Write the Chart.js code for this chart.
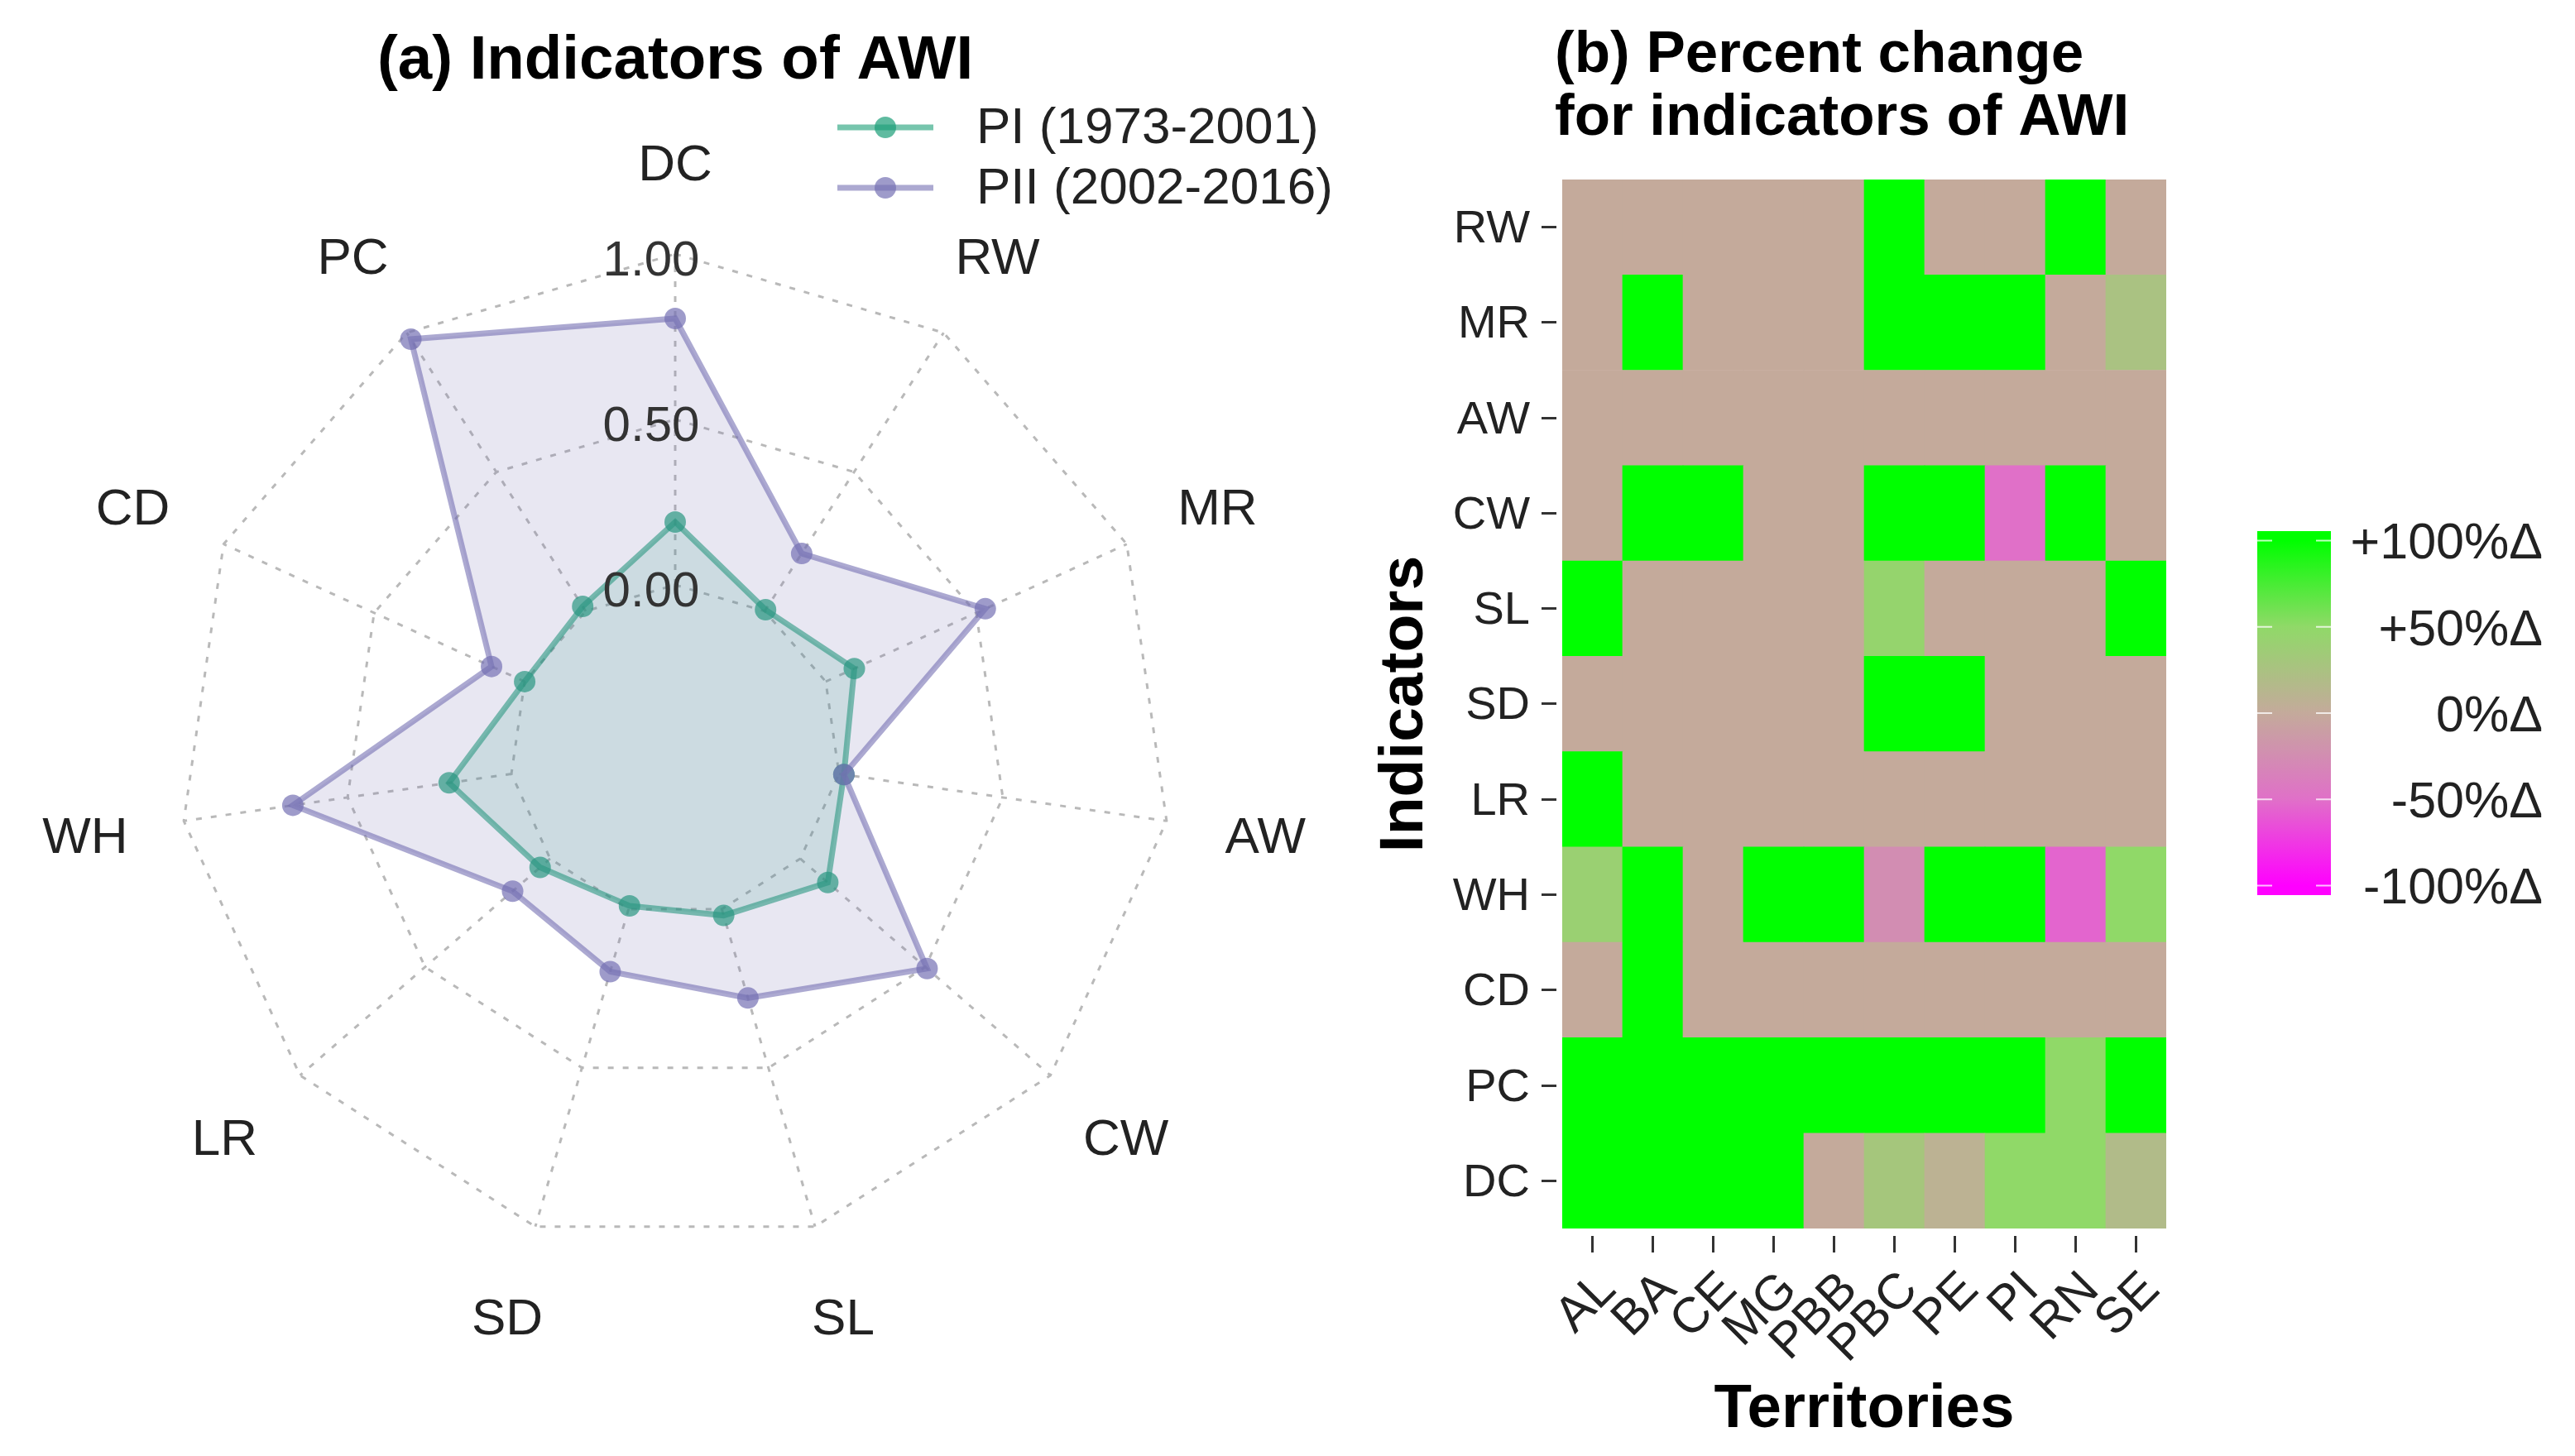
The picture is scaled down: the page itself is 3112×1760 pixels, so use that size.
<!DOCTYPE html>
<html>
<head>
<meta charset="utf-8" />
<title>Indicators of AWI</title>
<script src="https://cdn.jsdelivr.net/npm/chart.js@4"></script>
<style>
    body { margin: 0; background: #fff; width: 3112px; height: 1760px; position: relative; overflow: hidden; }
    canvas { position: absolute; }
    #radar { left: 0; top: 0; }
    #heat { left: 1632px; top: 0; }
    #bar { left: 2728px; top: 622px; }
</style>
</head>
<body>
<canvas id="radar" width="1632" height="1760"></canvas>
<canvas id="heat" width="1480" height="1760"></canvas>
<canvas id="bar" width="345" height="490"></canvas>
<script>
    // (a) radar
    var indicators = ['DC', 'RW', 'MR', 'AW', 'CW', 'SL', 'SD', 'LR', 'WH', 'CD', 'PC'];
    var period1 = [0.19, 0.005, 0.095, 0.015, 0.11, 0.02, -0.01, 0.04, 0.19, 0.0, 0.017];
    var period2 = [0.805, 0.207, 0.53, 0.015, 0.507, 0.28, 0.197, 0.15, 0.667, 0.11, 0.977];
    var radarTicks = [0, 0.5, 1];

    // (b) heatmap, percent change, one list per row
    var territories = ['AL', 'BA', 'CE', 'MG', 'PBB', 'PBC', 'PE', 'PI', 'RN', 'SE'];
    var rowNames = ['RW', 'MR', 'AW', 'CW', 'SL', 'SD', 'LR', 'WH', 'CD', 'PC', 'DC'];
    var rowRW = [0, 0, 0, 0, 0, 100, 0, 0, 100, 0];
    var rowMR = [0, 100, 0, 0, 0, 100, 100, 100, 0, 25];
    var rowAW = [0, 0, 0, 0, 0, 0, 0, 0, 0, 0];
    var rowCW = [0, 100, 100, 0, 0, 100, 100, -50, 100, 0];
    var rowSL = [100, 0, 0, 0, 0, 45, 0, 0, 0, 100];
    var rowSD = [0, 0, 0, 0, 0, 100, 100, 0, 0, 0];
    var rowLR = [100, 0, 0, 0, 0, 0, 0, 0, 0, 0];
    var rowWH = [40, 100, 0, 100, 100, -25, 100, 100, -55, 50];
    var rowCD = [0, 100, 0, 0, 0, 0, 0, 0, 0, 0];
    var rowPC = [100, 100, 100, 100, 100, 100, 100, 100, 50, 100];
    var rowDC = [100, 100, 100, 100, 0, 30, 8, 50, 50, 18];
    var heatRows = [rowRW, rowMR, rowAW, rowCW, rowSL, rowSD, rowLR, rowWH, rowCD, rowPC, rowDC];

    // colour bar
    var barTicks = [-100, -50, 0, 50, 100];
    var barLabels = ['-100%Δ', '-50%Δ', '0%Δ', '+50%Δ', '+100%Δ'];
    var barColors = ['#ff00ff', '#e070c8', '#c4aa9b', '#90d968', '#00ff00'];

    var FONT = '"Liberation Sans", Arial, sans-serif';
    var INK = '#222222';

    function hexToRgb(hex) {
        return [1, 3, 5].map(function(i){ return parseInt(hex.substr(i, 2), 16); });
    }

    function colorFor(v) {
        var i = Math.min(Math.floor((v + 100) / 50), barColors.length - 2);
        var t = (v - barTicks[i]) / 50;
        var a = hexToRgb(barColors[i]), b = hexToRgb(barColors[i + 1]);
        var c = a.map(function(x, k){ return Math.round(x + (b[k] - x) * t); });
        return 'rgb(' + c.join(',') + ')';
    }

    // spokes start at the 0.00 ring, labels are centred on a wider circle
    var radarExtras = {
        id: 'radarExtras',
        beforeDatasetsDraw: function(chart) {
            var ctx = chart.ctx, r = chart.scales.r;
            ctx.save();
            ctx.strokeStyle = '#b9b9b9';
            ctx.lineWidth = 3;
            ctx.setLineDash([7, 11]);
            indicators.forEach(function(name, i){
                var a = r.getPointPositionForValue(i, 0), b = r.getPointPositionForValue(i, 1);
                ctx.beginPath();
                ctx.moveTo(a.x, a.y);
                ctx.lineTo(b.x, b.y);
                ctx.stroke();
            });
            ctx.restore();
        },
        afterDatasetsDraw: function(chart) {
            var ctx = chart.ctx, r = chart.scales.r;
            ctx.save();
            ctx.fillStyle = INK;
            ctx.textAlign = 'center';
            ctx.textBaseline = 'middle';
            ctx.font = '62px ' + FONT;
            indicators.forEach(function(name, i){
                var p = r.getPointPosition(i, 712);
                ctx.fillText(name, r.xCenter + (p.x - r.xCenter) * 1.012, p.y + 6);
            });
            ctx.font = '60px ' + FONT;
            ctx.fillStyle = '#333333';
            radarTicks.forEach(function(v){
                var p = r.getPointPositionForValue(0, v);
                ctx.fillText(v.toFixed(2), p.x - 29, p.y + 9);
            });
            // legend
            ctx.textAlign = 'left';
            ctx.font = '62px ' + FONT;
            chart.data.datasets.forEach(function(ds, i){
                var y = 154 + i * 73;
                ctx.strokeStyle = ds.borderColor;
                ctx.lineWidth = ds.borderWidth;
                ctx.beginPath();
                ctx.moveTo(1012, y);
                ctx.lineTo(1128, y);
                ctx.stroke();
                ctx.fillStyle = ds.pointBackgroundColor;
                ctx.beginPath();
                ctx.arc(1070, y, ds.pointRadius, 0, Math.PI * 2);
                ctx.fill();
                ctx.fillStyle = INK;
                ctx.fillText(ds.label, 1180, y + 2);
            });
            ctx.restore();
        }
    };

    new Chart(document.getElementById('radar'), {
        type: 'radar',
        data: {
            labels: indicators,
            datasets: [
                {
                    label: 'PI (1973-2001)',
                    data: period1,
                    order: 1,
                    borderColor: 'rgba(27,158,119,0.6)',
                    backgroundColor: 'rgba(27,158,119,0.15)',
                    pointBackgroundColor: 'rgba(27,158,119,0.7)',
                    pointBorderWidth: 0,
                    pointRadius: 13,
                    borderWidth: 7,
                    fill: 'start'
                },
                {
                    label: 'PII (2002-2016)',
                    data: period2,
                    order: 0,
                    borderColor: 'rgba(117,112,179,0.6)',
                    backgroundColor: 'rgba(117,112,179,0.17)',
                    pointBackgroundColor: 'rgba(117,112,179,0.7)',
                    pointBorderWidth: 0,
                    pointRadius: 13,
                    borderWidth: 7,
                    fill: 'start'
                }
            ]
        },
        plugins: [radarExtras],
        options: {
            responsive: false,
            animation: false,
            layout: { padding: { left: 216, right: 216, top: 0, bottom: 252 } },
            plugins: {
                legend: { display: false },
                tooltip: { enabled: false },
                title: {
                    display: true,
                    text: '(a) Indicators of AWI',
                    color: '#000',
                    font: { family: FONT, size: 74.5, weight: 'bold', lineHeight: 1.1 },
                    padding: { top: 33, bottom: 193 }
                }
            },
            scales: {
                r: {
                    min: -0.5,
                    max: 1,
                    ticks: { display: false, stepSize: 0.5 },
                    pointLabels: { display: false },
                    angleLines: { display: false },
                    border: { dash: [7, 11] },
                    grid: { circular: false, color: '#b9b9b9', lineWidth: 3 }
                }
            }
        }
    });

    var rowDatasets = heatRows.slice().reverse().map(function(row, i){
        return {
            label: rowNames[rowNames.length - 1 - i],
            data: row.map(function(){ return 1; }),
            backgroundColor: row.map(colorFor),
            borderWidth: 0,
            barPercentage: 1,
            categoryPercentage: 1
        };
    });

    // the two title lines start a little left of the panel
    var nudgeTitle = {
        id: 'nudgeTitle',
        afterLayout: function(chart) { chart.titleBlock.left -= 9; chart.titleBlock.right -= 9; }
    };

    new Chart(document.getElementById('heat'), {
        type: 'bar',
        data: { labels: territories, datasets: rowDatasets },
        plugins: [nudgeTitle],
        options: {
            responsive: false,
            animation: false,
            layout: { padding: { left: 0, right: 494, top: 0, bottom: 0 } },
            plugins: {
                legend: { display: false },
                tooltip: { enabled: false },
                title: {
                    display: true,
                    text: ['(b) Percent change', 'for indicators of AWI'],
                    align: 'start',
                    fullSize: false,
                    color: '#000',
                    font: { family: FONT, size: 71, weight: 'bold', lineHeight: 1.07 },
                    padding: { top: 29, bottom: 36 }
                }
            },
            scales: {
                x: {
                    stacked: true,
                    border: { display: false },
                    grid: {
                        offset: false,
                        drawOnChartArea: false,
                        tickLength: 29,
                        tickWidth: 3,
                        tickColor: '#333333',
                        tickBorderDash: [0, 9, 20, 100]
                    },
                    ticks: {
                        autoSkip: false,
                        minRotation: 45,
                        maxRotation: 45,
                        padding: 10,
                        labelOffset: 19,
                        color: INK,
                        font: { family: FONT, size: 60 }
                    },
                    title: {
                        display: true,
                        text: 'Territories',
                        color: '#000',
                        font: { family: FONT, size: 74.5, weight: 'bold', lineHeight: 1.1 },
                        padding: { top: 0, bottom: 15 }
                    },
                    afterFit: function(scale) { scale.height = 275; }
                },
                y: {
                    stacked: true,
                    min: 0,
                    max: rowNames.length,
                    border: { display: false },
                    grid: {
                        drawOnChartArea: false,
                        tickLength: 25,
                        tickWidth: 3,
                        tickColor: '#333333',
                        tickBorderDash: [18, 100]
                    },
                    afterBuildTicks: function(scale) {
                        scale.ticks = rowNames.map(function(n, i){ return { value: i + 0.5 }; });
                    },
                    ticks: {
                        padding: 14,
                        labelOffset: 3,
                        color: INK,
                        font: { family: FONT, size: 56 },
                        callback: function(value) {
                            return rowNames[rowNames.length - 1 - Math.floor(value)];
                        }
                    },
                    title: {
                        display: true,
                        text: 'Indicators',
                        color: '#000',
                        font: { family: FONT, size: 75, weight: 'bold', lineHeight: 1.1 },
                        padding: { top: 25, bottom: 0 }
                    },
                    afterFit: function(scale) { scale.width = 256; }
                }
            }
        }
    });

    // small white marks on both edges of the colour bar
    var barMarks = {
        id: 'barMarks',
        afterDatasetsDraw: function(chart) {
            var ctx = chart.ctx, area = chart.chartArea, y = chart.scales.y;
            ctx.save();
            ctx.strokeStyle = 'rgba(255,255,255,0.75)';
            ctx.lineWidth = 2;
            barTicks.forEach(function(v){
                var py = y.getPixelForValue(v);
                ctx.beginPath();
                ctx.moveTo(area.left, py);
                ctx.lineTo(area.left + 18, py);
                ctx.moveTo(area.right - 18, py);
                ctx.lineTo(area.right, py);
                ctx.stroke();
            });
            ctx.restore();
        }
    };

    new Chart(document.getElementById('bar'), {
        type: 'bar',
        data: {
            labels: [''],
            datasets: [{
                data: [[-105.5, 105.5]],
                borderWidth: 0,
                barPercentage: 1,
                categoryPercentage: 1,
                backgroundColor: function(context) {
                    var chart = context.chart, area = chart.chartArea;
                    if (!area) { return barColors[2]; }
                    var g = chart.ctx.createLinearGradient(0, area.top, 0, area.bottom);
                    barTicks.forEach(function(v, i){
                        var p = (chart.scales.y.getPixelForValue(v) - area.top) / (area.bottom - area.top);
                        g.addColorStop(p, barColors[i]);
                    });
                    return g;
                }
            }]
        },
        plugins: [barMarks],
        options: {
            responsive: false,
            animation: false,
            layout: { padding: { left: 0, right: 0, top: 20, bottom: 30 } },
            plugins: { legend: { display: false }, tooltip: { enabled: false } },
            scales: {
                x: { display: false },
                y: {
                    position: 'right',
                    min: -105.5,
                    max: 105.5,
                    border: { display: false },
                    grid: { display: false, drawTicks: false },
                    afterBuildTicks: function(scale) {
                        scale.ticks = barTicks.map(function(v){ return { value: v }; });
                    },
                    ticks: {
                        padding: 0,
                        labelOffset: 5,
                        crossAlign: 'far',
                        color: INK,
                        font: { family: FONT, size: 61 },
                        callback: function(value) { return barLabels[barTicks.indexOf(value)]; }
                    },
                    afterFit: function(scale) {
                        scale.width = 256;
                        scale.paddingTop = 0;
                        scale.paddingBottom = 0;
                    }
                }
            }
        }
    });
</script>
</body>
</html>
